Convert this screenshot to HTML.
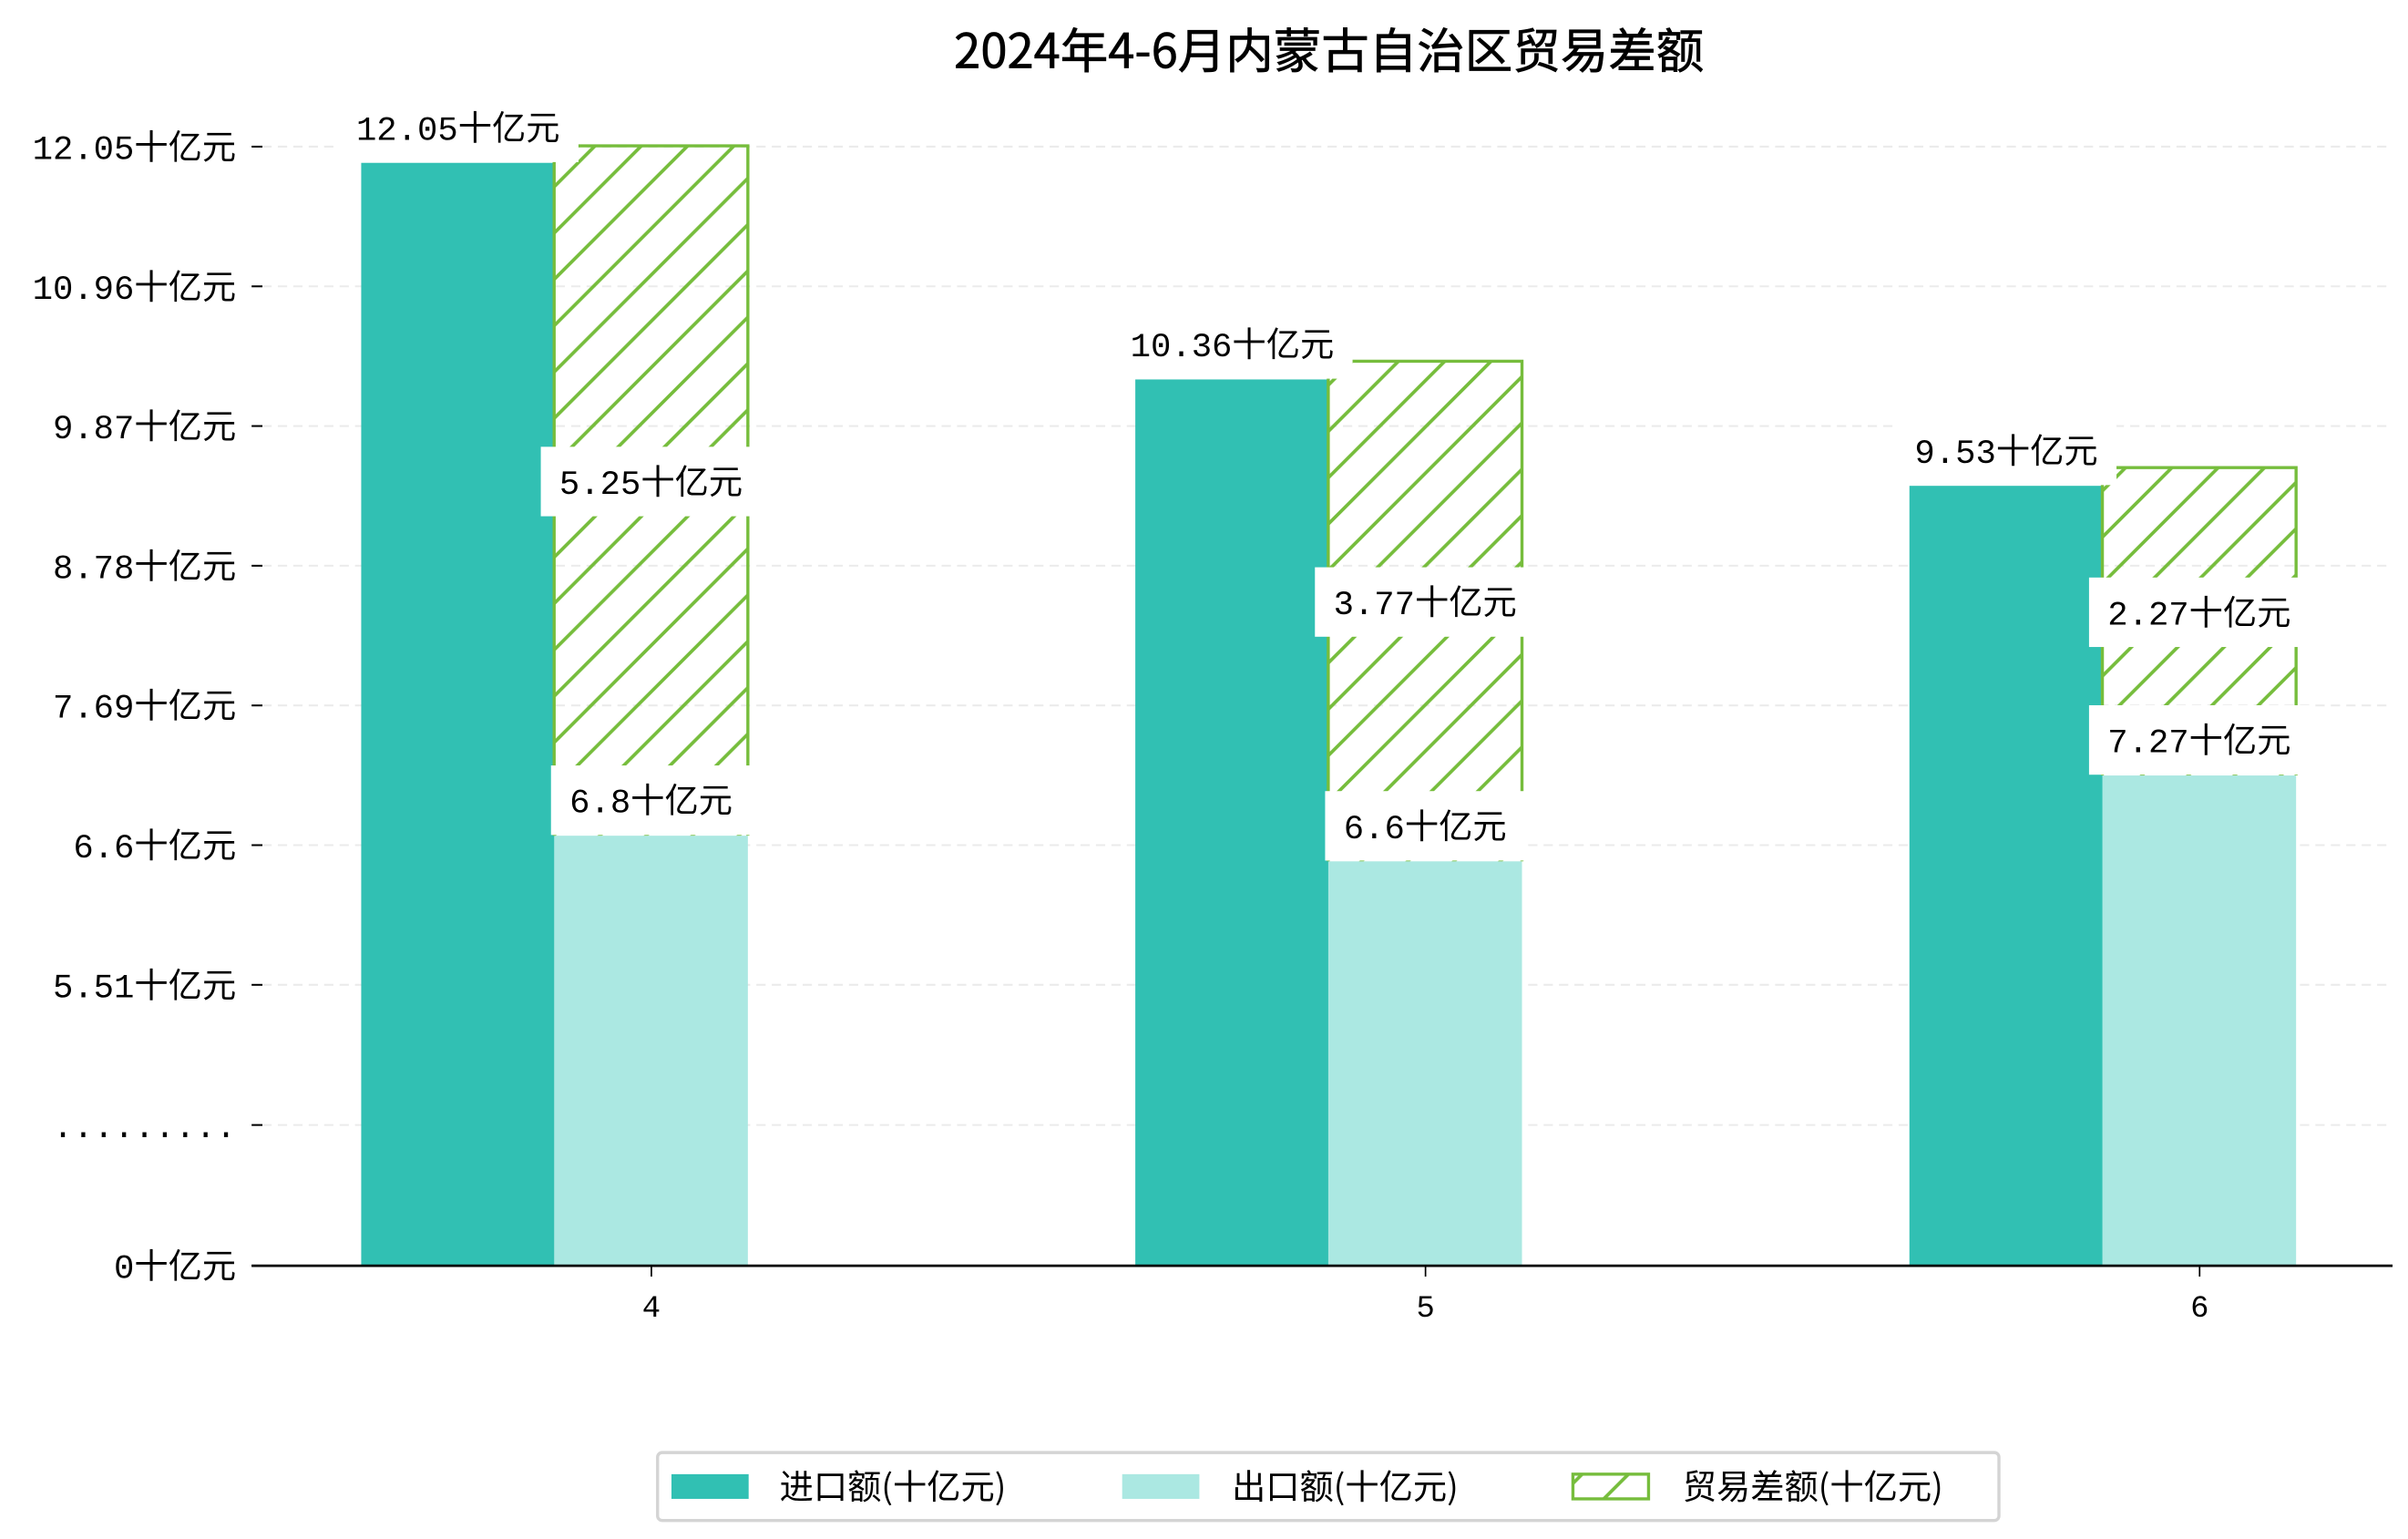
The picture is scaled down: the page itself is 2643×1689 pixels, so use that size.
<!DOCTYPE html>
<html><head><meta charset="utf-8"><style>
html,body{margin:0;padding:0;background:#fff;}
svg{display:block;font-family:"Liberation Mono","WenQuanYi Zen Hei","Noto Sans CJK SC",monospace;}
</style></head><body>
<svg id="chart" width="2643" height="1689" viewBox="0 0 1560 997" preserveAspectRatio="none" xmlns="http://www.w3.org/2000/svg">
<defs>
<pattern id="hatch" patternUnits="userSpaceOnUse" width="30" height="30">
<path d="M-8,38 L38,-8 M-38,38 L8,-8 M22,38 L68,-8" stroke="#76bd3c" stroke-width="2.2" fill="none"/>
</pattern>
</defs>
<rect width="1560" height="997" fill="#fff"/>
<text x="861" y="44" text-anchor="middle" font-size="31" fill="#000" style="font-family:'WenQuanYi Zen Hei','Noto Sans CJK SC',sans-serif" stroke="#000" stroke-width="0.4">2024年4-6月内蒙古自治区贸易差额</text>
<g id="grid"></g>
<g id="bars"></g>
<g id="labels"></g>
<g id="axes"></g>
<g style="font-family:'WenQuanYi Zen Hei','Noto Sans CJK SC',sans-serif">
<rect x="426" y="941" width="869" height="44" rx="3" fill="#fff" stroke="#d4d4d4" stroke-width="2"/>
<rect x="435" y="955" width="50" height="16" fill="#31c0b3"/>
<text x="505" y="971" font-size="22">进口额(十亿元)</text>
<rect x="727" y="955" width="50" height="16" fill="#abe8e2"/>
<text x="798" y="971" font-size="22">出口额(十亿元)</text>
<rect x="1019" y="955" width="49" height="16" fill="url(#hatch)" stroke="#76bd3c" stroke-width="2"/>
<text x="1090" y="971" font-size="22">贸易差额(十亿元)</text>
</g>
</svg>
<script>
const months = ["4","5","6"];
const imports = [12.05, 10.36, 9.53];
const exportsV = [6.8, 6.6, 7.27];
const balance = [5.25, 3.77, 2.27];
const tickValues = [12.05, 10.96, 9.87, 8.78, 7.69, 6.6, 5.51];
const tickLabels = ["12.05十亿元","10.96十亿元","9.87十亿元","8.78十亿元","7.69十亿元","6.6十亿元","5.51十亿元"];

const NS = "http://www.w3.org/2000/svg";
const baseY = 820, axisL = 163, axisR = 1550;
function yTick(v){ return 638 - (v - 5.51) / 1.09 * 90.5; }
function yBar(v){ return yTick(v) + 10.5; }
function xCenter(i){ return 422 + i * 501.5; }
const barW = 125.5;
function mk(tag, attrs, parent){ const e = document.createElementNS(NS, tag); for (const k in attrs) e.setAttribute(k, attrs[k]); parent.appendChild(e); return e; }

const grid = document.getElementById('grid');
const axes = document.getElementById('axes');
const bars = document.getElementById('bars');
const labels = document.getElementById('labels');

const allTickY = tickValues.map(yTick).concat([yTick(5.51) + 90.8]);
allTickY.forEach((y, i) => {
  const g = mk('line', {x1: 170, x2: axisR, y1: y, y2: y, stroke: '#ebebeb', 'stroke-width': 1.2, 'stroke-dasharray': '6,4'}, grid);
  
  
  const t = mk('line', {x1: 163, x2: 170, y1: y, y2: y, stroke: '#000', 'stroke-width': 1.2}, axes);
  
  
  const lab = mk('text', {x: 153, y: y + 8, 'text-anchor': 'end', 'font-size': 22}, axes);
  lab.textContent = i < tickLabels.length ? tickLabels[i] : '.........';
  
  
});
const zl = mk('text', {x: 153, y: baseY + 8, 'text-anchor': 'end', 'font-size': 22}, axes);
zl.textContent = '0十亿元';


const zt = mk('line', {x1: 163, x2: 170, y1: baseY, y2: baseY, stroke: '#000', 'stroke-width': 1.2}, axes);



const xa = mk('line', {x1: axisL, x2: axisR, y1: baseY, y2: baseY, stroke: '#000', 'stroke-width': 1.6}, axes);



function boxLabel(text, cx, cy, name){
  const g = mk('g', {}, labels);
  
  
  const r = mk('rect', {fill: '#fff'}, g);
  const t = mk('text', {x: cx, y: cy + 8, 'text-anchor': 'middle', 'font-size': 22}, g);
  t.textContent = text;
  const bb = t.getBBox();
  r.setAttribute('x', bb.x - 12); r.setAttribute('y', cy - 22.5);
  r.setAttribute('width', bb.width + 24); r.setAttribute('height', 45);
}

months.forEach((m, i) => {
  const c = xCenter(i);
  const xi = c - 188, xe = c - 63;
  const yi = yBar(imports[i]);
  const r1 = mk('rect', {x: xi, y: yi, width: barW, height: baseY - yi, fill: '#31c0b3'}, bars);
  
  
  const ye = yBar(exportsV[i]);
  const r2 = mk('rect', {x: xe, y: ye, width: barW, height: baseY - ye, fill: '#abe8e2'}, bars);
  
  
  const yt = yBar(exportsV[i] + balance[i]) - 11;
  const r3 = mk('rect', {x: xe, y: yt, width: barW, height: ye - yt, fill: 'url(#hatch)'}, bars);
  
  
  const bd = mk('path', {d: `M${xe},${ye} L${xe},${yt} L${xe + barW},${yt} L${xe + barW},${ye}`, fill: 'none', stroke: '#76bd3c', 'stroke-width': 2}, bars);
  
  

  boxLabel(imports[i] + '十亿元', xi + barW / 2, yi - 23, 'import-value-label-' + m);
  boxLabel(balance[i] + '十亿元', xe + barW / 2, (ye + yt) / 2 - 6, 'balance-value-label-' + m);
  boxLabel(exportsV[i] + '十亿元', xe + barW / 2, ye - 23, 'export-value-label-' + m);

  const tk = mk('line', {x1: c, x2: c, y1: baseY, y2: baseY + 7, stroke: '#000', 'stroke-width': 1}, axes);
  
  
  const tl = mk('text', {x: c, y: 853, 'text-anchor': 'middle', 'font-size': 20}, axes);
  tl.textContent = m;
  
  
});
</script>
</body></html>
